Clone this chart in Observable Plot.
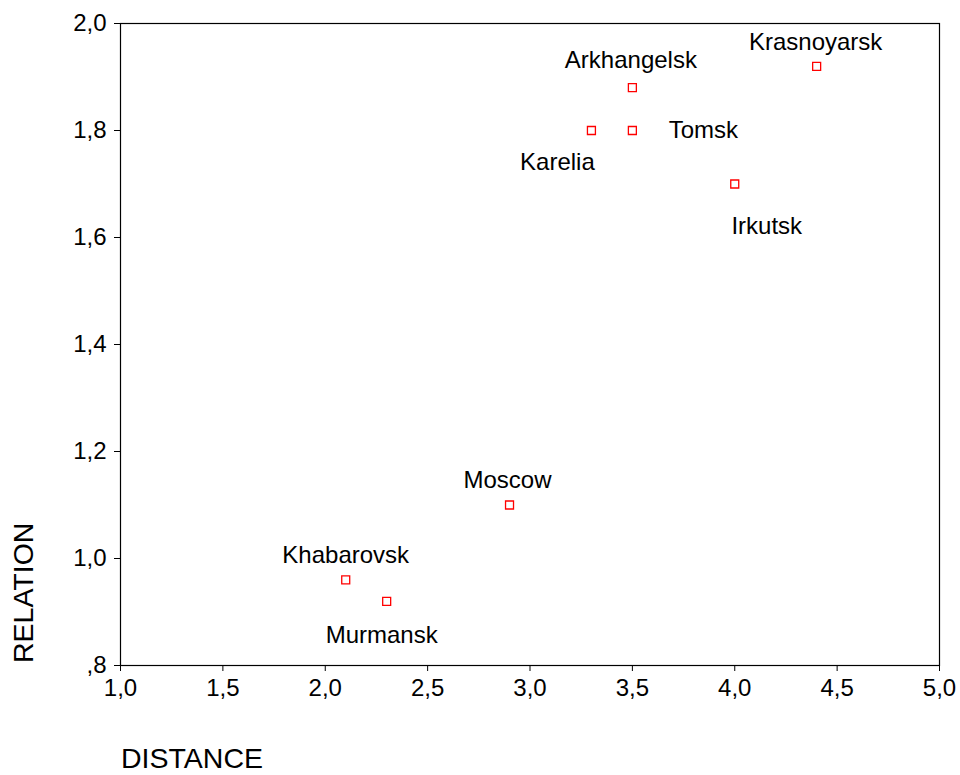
<!DOCTYPE html>
<html>
<head>
<meta charset="utf-8">
<script src="https://cdn.jsdelivr.net/npm/d3@7"></script>
<script src="https://cdn.jsdelivr.net/npm/@observablehq/plot@0.6"></script>
<style>
  html, body { margin: 0; padding: 0; background: #fff; }
  #chart svg { display: block; }
</style>
</head>
<body>
<div id="chart"></div>
<script>
// ---- data ----
const cities   = ["Krasnoyarsk", "Arkhangelsk", "Tomsk", "Karelia", "Irkutsk", "Moscow", "Khabarovsk", "Murmansk"];
const distance = [4.4, 3.5, 3.5, 3.3, 4.0, 2.9, 2.1, 2.3];
const relation = [1.92, 1.88, 1.80, 1.80, 1.70, 1.10, 0.96, 0.92];
const xTicks = [1.0, 1.5, 2.0, 2.5, 3.0, 3.5, 4.0, 4.5, 5.0];
const yTicks = [0.8, 1.0, 1.2, 1.4, 1.6, 1.8, 2.0];
const xTitle = "DISTANCE";
const yTitle = "RELATION";

const data = cities.map((name, i) => ({name, distance: distance[i], relation: relation[i]}));

// label placement (pixel offsets from each point)
const labelOffset = {
  Krasnoyarsk: [-1, -24],
  Arkhangelsk: [-1.5, -27],
  Tomsk: [71, 0],
  Karelia: [-34, 32],
  Irkutsk: [32, 42],
  Moscow: [-2, -25],
  Khabarovsk: [0, -25],
  Murmansk: [-5, 34]
};

const FONT = "'Liberation Sans', Arial, Helvetica, sans-serif";
const fmt = d => d.toFixed(1).replace(".", ",").replace(/^0/, "");

const W = 960, H = 775;
const plot = Plot.plot({
  width: W,
  height: H,
  marginLeft: 120,
  marginRight: 21,
  marginTop: 23,
  marginBottom: 110,
  style: {fontFamily: FONT, fontSize: "24px", color: "#000", background: "#fff"},
  x: {domain: [1, 5], ticks: xTicks, tickFormat: fmt, tickSize: 6, tickPadding: 7, label: null},
  y: {domain: [0.8, 2.0], ticks: yTicks, tickFormat: fmt, tickSize: 6, tickPadding: 8, label: null},
  marks: [
    Plot.frame({stroke: "#000", strokeWidth: 1.2}),
    Plot.dot(data, {x: "distance", y: "relation", symbol: "square", r: 4.5, stroke: "#ff0000", fill: "none", strokeWidth: 1.3}),
    ...data.map(d => Plot.text([d], {
      x: "distance", y: "relation", text: "name",
      dx: labelOffset[d.name][0], dy: labelOffset[d.name][1],
      fontSize: 24, fill: "#000", textAnchor: "middle", lineAnchor: "middle"
    }))
  ]
});

document.getElementById("chart").appendChild(plot);

// axis titles, placed as in the reference
const svg = d3.select(plot);
svg.append("text")
  .attr("x", 121).attr("y", 768)
  .attr("text-anchor", "start")
  .attr("font-family", FONT).attr("font-size", 28.5).attr("fill", "#000")
  .text(xTitle);
svg.append("text")
  .attr("transform", "translate(33,663) rotate(-90)")
  .attr("text-anchor", "start")
  .attr("font-family", FONT).attr("font-size", 28.5).attr("fill", "#000")
  .text(yTitle);
</script>
</body>
</html>
